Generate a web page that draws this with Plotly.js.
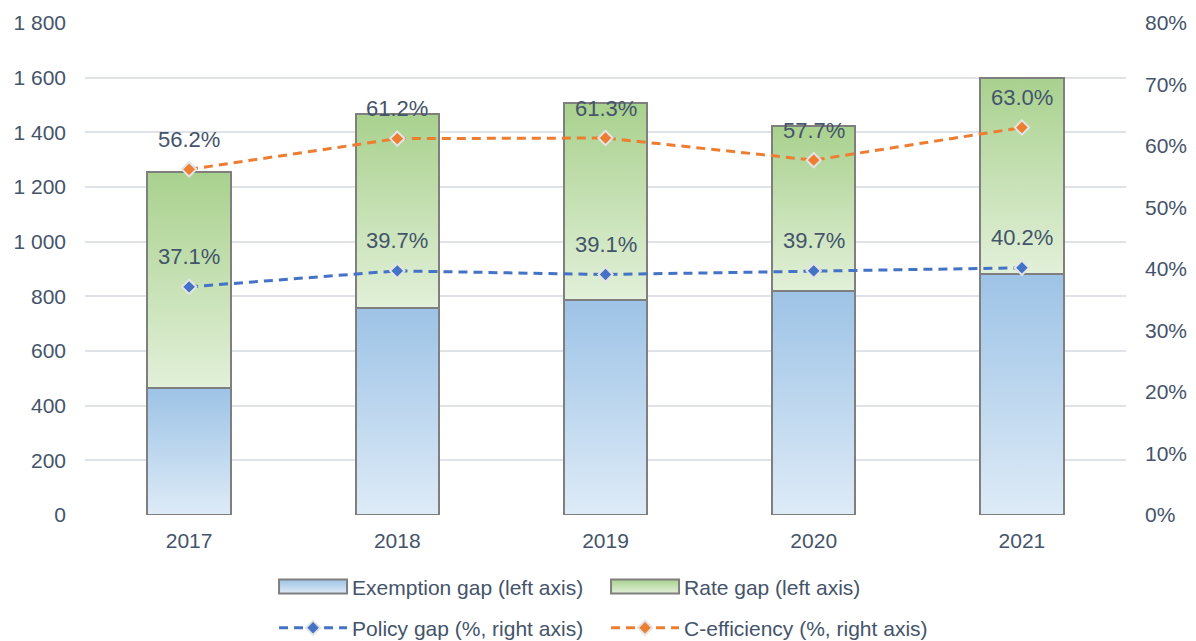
<!DOCTYPE html>
<html>
<head>
<meta charset="utf-8">
<script src="https://cdn.plot.ly/plotly-3.0.1.min.js"></script>
<style>
  html, body { margin: 0; padding: 0; background: #ffffff; }
  #chart { width: 1196px; height: 641px; }
</style>
</head>
<body>
<div id="chart"></div>
<script>
// ---- Data ----
var years = ['2017', '2018', '2019', '2020', '2021'];
var exemptionGap = [465, 757, 788, 820, 882];
var rateGap = [791, 710, 718, 602, 716];
var policyGap = [0.371, 0.397, 0.391, 0.397, 0.402];
var cEfficiency = [0.562, 0.612, 0.613, 0.577, 0.630];

var FONT = 'Liberation Sans, Arial, sans-serif';
var TXT = '#44546A';

function pct(v) { return (v * 100).toFixed(1) + '%'; }

var traces = [
  {
    type: 'bar', name: 'Exemption gap (left axis)', x: years, y: exemptionGap,
    marker: { color: '#BDD7EE', line: { color: '#7F7F7F', width: 2 } },
    width: 0.4, legend: 'legend', hoverinfo: 'x+y'
  },
  {
    type: 'bar', name: 'Rate gap (left axis)', x: years, y: rateGap,
    marker: { color: '#C5E0B4', line: { color: '#7F7F7F', width: 2 } },
    width: 0.4, legend: 'legend', hoverinfo: 'x+y'
  },
  {
    type: 'scatter', mode: 'lines+markers', name: 'Policy gap (%, right axis)',
    x: years, y: policyGap, yaxis: 'y2', legend: 'legend2',
    line: { color: '#4472C4', width: 3, dash: '9px,6px' },
    marker: { symbol: 'diamond', size: 11, color: '#4472C4', line: { color: '#E4E4E4', width: 2 } }
  },
  {
    type: 'scatter', mode: 'lines+markers', name: 'C-efficiency (%, right axis)',
    x: years, y: cEfficiency, yaxis: 'y2', legend: 'legend2',
    line: { color: '#ED7D31', width: 3, dash: '9px,6px' },
    marker: { symbol: 'diamond', size: 11, color: '#ED7D31', line: { color: '#E4E4E4', width: 2 } }
  }
];

var annotations = [];
function addLabels(vals) {
  for (var i = 0; i < years.length; i++) {
    annotations.push({
      x: i, y: vals[i], xref: 'x', yref: 'y2', text: pct(vals[i]),
      showarrow: false, yshift: 30, font: { family: FONT, size: 22, color: TXT }
    });
  }
}
addLabels(policyGap);
addLabels(cEfficiency);

var layout = {
  width: 1196, height: 641,
  margin: { l: 85, r: 70, t: 23, b: 126, autoexpand: false },
  paper_bgcolor: '#ffffff', plot_bgcolor: '#ffffff',
  barmode: 'stack',
  separators: '. ',
  font: { family: FONT, size: 21, color: TXT },
  showlegend: true,
  xaxis: {
    type: 'category', range: [-0.5, 4.5],
    showgrid: false, zeroline: false, showline: false,
    ticks: '', ticklabelstandoff: 11,
    tickfont: { family: FONT, size: 21, color: TXT }
  },
  yaxis: {
    range: [0, 1800], dtick: 200, tick0: 0,
    showgrid: true, gridcolor: '#DFE3E8', gridwidth: 2,
    zeroline: false, showline: false, ticks: '',
    tickformat: ',d', ticklabelstandoff: 18,
    tickfont: { family: FONT, size: 21, color: TXT }
  },
  yaxis2: {
    overlaying: 'y', side: 'right', range: [0, 0.8], dtick: 0.1, tick0: 0,
    showgrid: false, zeroline: false, showline: false, ticks: '',
    tickformat: '.0%', ticklabelstandoff: 18,
    tickfont: { family: FONT, size: 21, color: TXT }
  },
  legend: {
    orientation: 'h', x: 0.1816, xanchor: 'left', y: -0.146, yanchor: 'middle',
    entrywidth: 249, entrywidthmode: 'pixels', itemwidth: 68,
    traceorder: 'normal', font: { family: FONT, size: 21, color: TXT },
    bgcolor: 'rgba(0,0,0,0)'
  },
  legend2: {
    orientation: 'h', x: 0.1816, xanchor: 'left', y: -0.23, yanchor: 'middle',
    entrywidth: 249, entrywidthmode: 'pixels', itemwidth: 68,
    traceorder: 'normal', font: { family: FONT, size: 21, color: TXT },
    bgcolor: 'rgba(0,0,0,0)'
  },
  annotations: annotations
};

function ensureGradients(gd) {
  var svg = gd.querySelector('svg.main-svg');
  if (!svg) return;
  var defs = svg.querySelector('defs');
  if (!defs) { defs = document.createElementNS('http://www.w3.org/2000/svg', 'defs'); svg.insertBefore(defs, svg.firstChild); }
  function mk(id, top, bottom) {
    if (document.getElementById(id)) return;
    var g = document.createElementNS('http://www.w3.org/2000/svg', 'linearGradient');
    g.setAttribute('id', id);
    g.setAttribute('x1', '0'); g.setAttribute('y1', '0');
    g.setAttribute('x2', '0'); g.setAttribute('y2', '1');
    [[0, top], [1, bottom]].forEach(function (s) {
      var st = document.createElementNS('http://www.w3.org/2000/svg', 'stop');
      st.setAttribute('offset', s[0]);
      st.setAttribute('stop-color', s[1]);
      g.appendChild(st);
    });
    defs.appendChild(g);
  }
  mk('gradBlue', '#9DC3E6', '#DEEBF7');
  mk('gradGreen', '#A9D18E', '#E2F0D9');
  var bars = gd.querySelectorAll('.barlayer .trace.bars');
  var ids = ['gradBlue', 'gradGreen'];
  bars.forEach(function (tr, i) {
    tr.querySelectorAll('path').forEach(function (p) { p.style.fill = 'url(#' + ids[i] + ')'; });
  });
  gd.querySelectorAll('.legend .traces').forEach(function (t) {
    var txt = t.textContent || '';
    var id = txt.indexOf('Exemption') >= 0 ? 'gradBlue' : (txt.indexOf('Rate') >= 0 ? 'gradGreen' : null);
    if (id) {
      t.querySelectorAll('.legendpoints path').forEach(function (p) {
        p.style.fill = 'url(#' + id + ')';
        p.setAttribute('d', 'M34,7H-34V-7H34Z');
      });
    }
  });
}

var gd = document.getElementById('chart');
Plotly.newPlot(gd, traces, layout, { displayModeBar: false, staticPlot: true }).then(function () {
  ensureGradients(gd);
  gd.on('plotly_afterplot', function () { ensureGradients(gd); });
});
</script>
</body>
</html>
